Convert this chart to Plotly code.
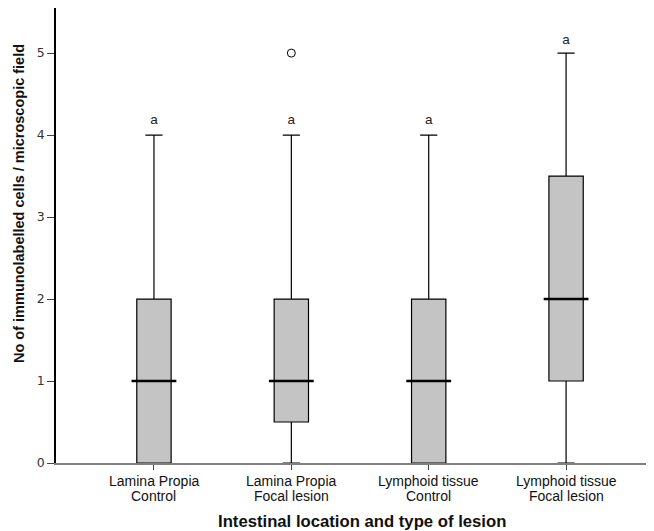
import plotly.graph_objects as go

location = ["Lamina Propia", "Lamina Propia", "Lymphoid tissue", "Lymphoid tissue"]
lesion = ["Control", "Focal lesion", "Control", "Focal lesion"]
categories = [a + "<br>" + b for a, b in zip(location, lesion)]
q1 = [0, 0.5, 0, 1]
median = [1, 1, 1, 2]
q3 = [2, 2, 2, 3.5]
lower = [0, 0, 0, 0]
upper = [4, 4, 4, 5]
outlier_cat = [categories[1]]
outlier_val = [5]
letters = ["a", "a", "a", "a"]
letter_y = [4.18, 4.18, 4.18, 5.15]
x_title = "Intestinal location and type of lesion"
y_title = "No of immunolabelled cells / microscopic field"

fig = go.Figure()
fig.add_trace(go.Box(
    x=categories, q1=q1, median=median, q3=q3,
    lowerfence=lower, upperfence=upper,
    fillcolor="#c4c4c4", line=dict(color="#000000", width=1.2),
    whiskerwidth=0.5, width=0.25, boxpoints=False, showlegend=False,
    hoverinfo="skip"))
fig.add_trace(go.Scatter(
    x=categories, y=median, mode="markers",
    marker=dict(symbol="line-ew", size=32, line=dict(color="black", width=2.5)),
    showlegend=False, hoverinfo="skip"))
fig.add_trace(go.Scatter(
    x=outlier_cat, y=outlier_val, mode="markers",
    marker=dict(symbol="circle-open", size=8, color="black", line=dict(width=1)),
    showlegend=False))
fig.add_trace(go.Scatter(
    x=categories, y=letter_y, mode="text", text=letters,
    textfont=dict(family="Liberation Sans, Arial", size=13.5, color="#222"),
    showlegend=False))

tick_font = dict(family="Liberation Sans, Arial", size=14, color="#111")
annotations = []
for c, a, b in zip(categories, location, lesion):
    annotations.append(dict(text=a, x=c, xref="x", y=-0.0396, yref="paper",
                            xanchor="center", yanchor="middle", showarrow=False,
                            font=tick_font))
    annotations.append(dict(text=b, x=c, xref="x", y=-0.0725, yref="paper",
                            xanchor="center", yanchor="middle", showarrow=False,
                            font=tick_font))
annotations += [
    dict(text="<b>" + x_title + "</b>", xref="paper", yref="paper",
         x=0.5117, y=-0.1275, xanchor="center", yanchor="middle",
         showarrow=False,
         font=dict(family="Liberation Sans, Arial", size=16.7, color="#111")),
    dict(text="<b>" + y_title + "</b>", xref="paper", yref="paper",
         x=-0.0619, y=0.5714, xanchor="center", yanchor="middle",
         textangle=-90, showarrow=False,
         font=dict(family="Liberation Sans, Arial", size=14.5, color="#111")),
]

fig.update_layout(
    width=646, height=523,
    margin=dict(l=48, r=0, t=0, b=68),
    paper_bgcolor="white", plot_bgcolor="white",
    xaxis=dict(
        type="category", range=[-0.713, 3.64],
        showline=True, linecolor="#808080", linewidth=1.5,
        ticks="outside", ticklen=5, tickcolor="#444",
        showticklabels=False,
        showgrid=False, zeroline=False,
    ),
    yaxis=dict(
        range=[0, 5.55], tickvals=[0, 1, 2, 3, 4, 5],
        showline=True, linecolor="#000", linewidth=1.5,
        ticks="outside", ticklen=7, tickcolor="#444",
        tickfont=dict(family="DejaVu Sans", size=12.5, color="#333"),
        showgrid=False, zeroline=False,
    ),
    annotations=annotations,
)
fig.write_html("out.html")
